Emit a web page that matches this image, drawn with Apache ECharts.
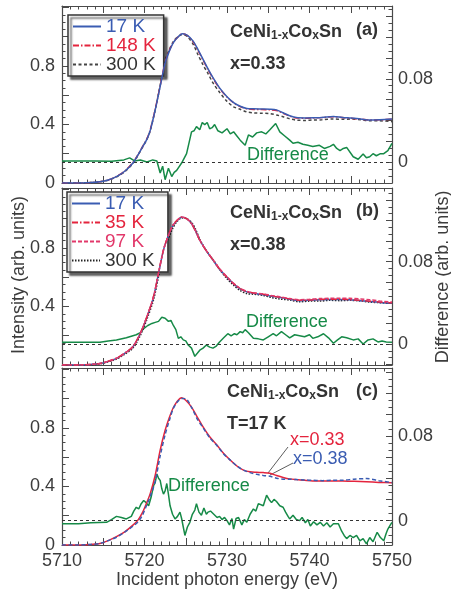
<!DOCTYPE html>
<html>
<head>
<meta charset="utf-8">
<script src="https://cdn.jsdelivr.net/npm/echarts@6/dist/echarts.min.js"></script>
<style>
  html, body { margin: 0; padding: 0; background: #fff; }
  #main { width: 451px; height: 593px; }
</style>
</head>
<body>
<div id="main"></div>
<script>
// ---- panel (a): x = 0.33, spectra at 17 K / 148 K / 300 K
var eA = [5710, 5712, 5713.5, 5714.6, 5715.6, 5716.6, 5717.6, 5718.6, 5719.2, 5719.8,
          5720.3, 5720.7, 5721.3, 5721.9, 5722.5, 5723.0, 5723.5, 5724.0, 5724.6, 5725.2,
          5725.9, 5726.5, 5727.1, 5727.7, 5728.3, 5729.1, 5730.0, 5730.8, 5731.6, 5732.4,
          5733.2, 5734.2, 5735.2, 5736.0, 5736.8, 5737.6, 5738.4, 5739.5, 5740.5, 5741.5,
          5742.9, 5744.0, 5745.0, 5746.2, 5747.3, 5748.5, 5750];
var a17 = [0, 0, 0.003, 0.008, 0.02, 0.043, 0.08, 0.137, 0.19, 0.25,
           0.30, 0.36, 0.50, 0.66, 0.82, 0.90, 0.96, 0.995, 1.02, 1.01,
           0.97, 0.91, 0.845, 0.78, 0.72, 0.65, 0.59, 0.55, 0.525, 0.51,
           0.507, 0.506, 0.505, 0.50, 0.48, 0.46, 0.447, 0.445, 0.446, 0.448,
           0.455, 0.448, 0.444, 0.438, 0.43, 0.432, 0.437];
var a148 = [0, 0, 0.003, 0.009, 0.021, 0.045, 0.082, 0.14, 0.193, 0.252,
            0.303, 0.365, 0.505, 0.665, 0.825, 0.905, 0.962, 0.995, 1.02, 1.008,
            0.965, 0.905, 0.84, 0.775, 0.716, 0.647, 0.588, 0.548, 0.522, 0.508,
            0.503, 0.502, 0.5, 0.495, 0.477, 0.457, 0.445, 0.443, 0.445, 0.447,
            0.453, 0.447, 0.442, 0.437, 0.43, 0.432, 0.436];
var a300 = [0, 0, 0.003, 0.008, 0.019, 0.041, 0.077, 0.134, 0.188, 0.249,
            0.30, 0.36, 0.50, 0.668, 0.837, 0.91, 0.968, 0.998, 1.015, 1.0,
            0.948, 0.875, 0.807, 0.748, 0.684, 0.62, 0.558, 0.521, 0.504, 0.486,
            0.479, 0.477, 0.474, 0.465, 0.453, 0.439, 0.43, 0.428, 0.431, 0.432,
            0.438, 0.435, 0.437, 0.433, 0.425, 0.425, 0.419];
var diffA = [[5710, 0.001], [5712, 0.001], [5714, 0.001], [5716, 0.0008], [5717.5, 0.002],
             [5718.2, 0.004], [5718.8, 0.001], [5719.5, 0.002], [5720.3, 0], [5721.0, 0.002],
             [5721.5, 0.001], [5721.9, -0.0106], [5722.2, -0.004], [5722.5, -0.017], [5722.9, -0.006],
             [5723.3, -0.014], [5723.6, -0.01], [5723.9, -0.008], [5724.5, -0.001], [5725.1, 0.008],
             [5725.7, 0.029], [5726.0, 0.03], [5726.3, 0.034], [5726.7, 0.031], [5727.0, 0.038],
             [5727.3, 0.036], [5727.6, 0.038], [5727.9, 0.032], [5728.2, 0.033], [5728.5, 0.036],
             [5728.9, 0.03], [5729.4, 0.028], [5730.0, 0.032], [5730.4, 0.027], [5730.8, 0.029],
             [5731.2, 0.025], [5731.6, 0.021], [5732.2, 0.016], [5732.6, 0.026], [5733.1, 0.024],
             [5733.6, 0.028], [5734.2, 0.029], [5734.7, 0.027], [5735.2, 0.031], [5735.9, 0.037],
             [5736.4, 0.029], [5737.0, 0.025], [5737.6, 0.021], [5738.0, 0.018], [5738.6, 0.019],
             [5739.2, 0.017], [5739.8, 0.016], [5740.4, 0.015], [5741.2, 0.016], [5741.8, 0.013],
             [5742.5, 0.015], [5742.9, 0.017], [5743.3, 0.013], [5743.7, 0.011], [5744.1, 0.013],
             [5744.5, 0.014], [5745.3, 0.005], [5745.9, 0.0026], [5746.5, 0.0077], [5746.9, 0.004],
             [5747.3, 0.005], [5747.7, 0.008], [5748.1, 0.006], [5748.6, 0.008], [5749.0, 0.008],
             [5749.5, 0.011], [5750, 0.018]];

// ---- panel (b): x = 0.38, spectra at 17 K / 35 K / 97 K / 300 K
var eB = [5710, 5712, 5713.5, 5714.6, 5715.6, 5716.6, 5717.6, 5718.6, 5719.5, 5720.3,
          5721.1, 5721.7, 5722.3, 5722.8, 5723.4, 5724.0, 5724.5, 5725.1, 5725.7, 5726.2,
          5726.7, 5727.5, 5728.3, 5729.1, 5730.0, 5730.8, 5731.6, 5732.4, 5733.2, 5734.4,
          5735.4, 5736.4, 5737.6, 5738.8, 5740.0, 5741.2, 5742.5, 5743.7, 5744.9, 5746.1,
          5747.3, 5748.5, 5750];
var b17 = [0, 0, 0.004, 0.01, 0.025, 0.045, 0.08, 0.125, 0.216, 0.33,
           0.466, 0.626, 0.785, 0.87, 0.95, 0.99, 1.01, 1.0, 0.967, 0.915,
           0.853, 0.78, 0.717, 0.655, 0.6, 0.555, 0.52, 0.5, 0.49, 0.48,
           0.47, 0.462, 0.45, 0.44, 0.442, 0.446, 0.447, 0.447, 0.446, 0.44,
           0.434, 0.428, 0.423];
var b35 = [0, 0, 0.004, 0.01, 0.026, 0.046, 0.081, 0.127, 0.218, 0.332,
           0.47, 0.63, 0.787, 0.872, 0.952, 0.992, 1.012, 1.0, 0.965, 0.913,
           0.852, 0.779, 0.718, 0.656, 0.6, 0.556, 0.522, 0.502, 0.492, 0.483,
           0.472, 0.463, 0.452, 0.442, 0.444, 0.448, 0.449, 0.449, 0.447, 0.442,
           0.436, 0.43, 0.425];
var b97 = [0, 0, 0.004, 0.01, 0.025, 0.046, 0.08, 0.126, 0.217, 0.331,
           0.468, 0.628, 0.786, 0.871, 0.951, 0.991, 1.012, 1.002, 0.968, 0.916,
           0.855, 0.782, 0.72, 0.658, 0.603, 0.558, 0.524, 0.504, 0.494, 0.486,
           0.475, 0.466, 0.454, 0.446, 0.449, 0.454, 0.456, 0.457, 0.456, 0.452,
           0.446, 0.438, 0.43];
var b300 = [0, 0, 0.002, 0.008, 0.022, 0.041, 0.074, 0.116, 0.203, 0.314,
            0.446, 0.604, 0.76, 0.848, 0.932, 0.985, 1.006, 1.001, 0.975, 0.927,
            0.859, 0.781, 0.721, 0.653, 0.59, 0.545, 0.508, 0.488, 0.484, 0.476,
            0.461, 0.451, 0.444, 0.432, 0.437, 0.437, 0.442, 0.44, 0.442, 0.438,
            0.43, 0.426, 0.421];
var diffB = [[5710, 0.0016], [5712, 0.0016], [5714.6, 0.0016], [5715.6, 0.003], [5716.6, 0.004],
             [5717.8, 0.006], [5719.0, 0.009], [5719.5, 0.011], [5719.9, 0.015], [5720.4, 0.018],
             [5720.9, 0.02], [5721.3, 0.021], [5721.7, 0.022], [5722.1, 0.026], [5722.5, 0.025],
             [5722.7, 0.026], [5722.9, 0.022], [5723.2, 0.023], [5723.5, 0.018], [5723.8, 0.014],
             [5724.1, 0.0055], [5724.4, 0.007], [5724.7, 0.004], [5725.0, 0.003], [5725.3, -0.001],
             [5725.7, -0.004], [5726.1, -0.012], [5726.4, -0.009], [5726.7, -0.006], [5727.1, -0.004],
             [5727.5, -0.001], [5727.9, -0.003], [5728.3, -0.004], [5728.7, -0.002], [5729.1, 0.002],
             [5729.6, 0.006], [5730.1, 0.01], [5730.5, 0.008], [5730.9, 0.01], [5731.2, 0.009],
             [5731.6, 0.012], [5731.9, 0.011], [5732.2, 0.014], [5732.6, 0.011], [5733.2, 0.0055],
             [5733.8, 0.005], [5734.4, 0.004], [5735.0, 0.007], [5735.6, 0.01], [5736.0, 0.008],
             [5736.6, 0.012], [5737.1, 0.009], [5737.6, 0.006], [5738.2, 0.009], [5738.8, 0.008],
             [5739.4, 0.007], [5740.0, 0.009], [5740.4, 0.0055], [5741.0, 0.007], [5741.7, 0.01],
             [5742.3, 0.006], [5742.9, 0.0007], [5743.4, 0.004], [5743.9, 0.007], [5744.5, 0.006],
             [5745.3, 0.004], [5745.9, 0.005], [5746.5, 0], [5747.1, 0.004], [5747.7, 0.005],
             [5748.3, 0.002], [5748.8, 0.003], [5749.3, 0.002], [5750, 0.0016]];

// ---- panel (c): T = 17 K, x = 0.33 vs x = 0.38
var eC = [5710, 5712, 5713.5, 5714.6, 5715.6, 5716.6, 5717.6, 5718.6, 5719.2, 5719.7,
          5720.2, 5720.7, 5721.3, 5721.9, 5722.5, 5723.0, 5723.5, 5724.0, 5724.5, 5725.0,
          5725.7, 5726.4, 5727.1, 5727.9, 5728.8, 5729.6, 5730.4, 5731.2, 5732.0, 5732.8,
          5733.6, 5734.4, 5735.2, 5736.0, 5736.8, 5737.6, 5738.4, 5739.4, 5740.4, 5741.6,
          5742.8, 5744.0, 5745.4, 5746.9, 5748.4, 5750];
var c33 = [0, 0, 0.004, 0.01, 0.03, 0.057, 0.09, 0.136, 0.17, 0.216,
           0.28, 0.353, 0.477, 0.648, 0.784, 0.87, 0.94, 0.985, 1.007, 0.99,
           0.943, 0.875, 0.807, 0.74, 0.682, 0.625, 0.58, 0.54, 0.512, 0.5,
           0.497, 0.495, 0.49, 0.475, 0.462, 0.452, 0.447, 0.442, 0.438, 0.438,
           0.438, 0.437, 0.435, 0.432, 0.428, 0.425];
var c38 = [0, 0, 0.004, 0.011, 0.03, 0.053, 0.088, 0.128, 0.157, 0.198,
           0.264, 0.333, 0.437, 0.61, 0.754, 0.85, 0.935, 0.979, 1.002, 1.0,
           0.941, 0.861, 0.801, 0.733, 0.679, 0.622, 0.58, 0.54, 0.512, 0.495,
           0.483, 0.475, 0.47, 0.457, 0.45, 0.45, 0.447, 0.444, 0.443, 0.44,
           0.443, 0.443, 0.45, 0.454, 0.44, 0.427];
var diffC = [[5710, -0.003], [5712, -0.003], [5713.5, -0.002], [5715.4, -0.0016], [5716.0, 0.001],
             [5716.6, 0.004], [5717.2, 0.003], [5717.8, 0.0016], [5718.4, 0.004], [5718.7, 0.009],
             [5719.0, 0.0126], [5719.3, 0.011], [5719.6, 0.016], [5719.9, 0.019], [5720.2, 0.017],
             [5720.5, 0.014], [5720.8, 0.022], [5721.1, 0.033], [5721.3, 0.036], [5721.5, 0.044],
             [5721.7, 0.04], [5721.9, 0.038], [5722.1, 0.03], [5722.3, 0.025], [5722.5, 0.028],
             [5722.7, 0.035], [5722.9, 0.025], [5723.1, 0.014], [5723.4, 0.006], [5723.7, 0.0016],
             [5724.0, 0.004], [5724.3, 0.008], [5724.5, 0.002], [5724.7, -0.006], [5724.9, -0.014],
             [5725.2, -0.006], [5725.5, -0.0016], [5725.8, 0.006], [5726.1, 0.01], [5726.3, 0.016],
             [5726.6, 0.008], [5726.9, 0.005], [5727.2, 0.012], [5727.5, 0.006], [5727.7, 0.008],
             [5728.0, 0.009], [5728.4, 0.006], [5728.8, 0.003], [5729.1, 0.004], [5729.4, 0.001],
             [5729.7, 0.003], [5730.0, 0], [5730.3, -0.004], [5730.6, 0.002], [5730.8, -0.008],
             [5731.1, 0.002], [5731.4, 0.003], [5731.8, -0.004], [5732.1, 0.001], [5732.4, -0.0016],
             [5732.8, 0.006], [5733.2, 0.011], [5733.5, 0.009], [5733.8, 0.016], [5734.0, 0.017],
             [5734.4, 0.014], [5734.8, 0.024], [5735.1, 0.02], [5735.4, 0.017], [5735.7, 0.02],
             [5736.0, 0.018], [5736.4, 0.014], [5736.8, 0.0126], [5737.1, 0.008], [5737.4, 0.004],
             [5737.6, 0.0016], [5738.0, 0.005], [5738.4, 0.001], [5738.8, 0], [5739.1, 0.003],
             [5739.5, -0.002], [5739.8, 0.001], [5740.1, -0.005], [5740.5, -0.001], [5740.9, -0.004],
             [5741.3, -0.0016], [5741.7, -0.005], [5742.1, -0.002], [5742.5, -0.006], [5742.9, -0.003],
             [5743.5, -0.003], [5743.9, -0.01], [5744.2, -0.014], [5744.5, -0.017], [5744.9, -0.014],
             [5745.3, -0.016], [5745.7, -0.014], [5746.1, -0.019], [5746.5, -0.017], [5746.9, -0.022],
             [5747.3, -0.016], [5747.7, -0.02], [5748.2, -0.011], [5748.6, -0.016], [5749.0, -0.019],
             [5749.3, -0.012], [5749.5, -0.008], [5749.8, -0.004], [5750, -0.0016]];

// axis ranges
var intensityMax = 1.21;
var diffRanges = [[-0.0202, 0.150], [-0.0204, 0.1516], [-0.023, 0.144]];

var FONT = '"Liberation Sans", Arial, Helvetica, sans-serif';
var BLUE = '#3a5cb2', RED = '#e4243d', PINK = '#e2386a', GREEN = '#168a47';
var AXIS = '#4a4a4a', TEXT = '#3c3c3c';

function zip(xs, ys) {
    return xs.map(function (x, i) { return [x, ys[i]]; });
}
function near(v, t) { return Math.abs(v - t) < 1e-9; }

var gridTops = [6, 188, 368];
var grids = gridTops.map(function (t) {
    return { left: 62, top: t, width: 330, height: 177, containLabel: false, outerBoundsMode: 'none' };
});

var xAxes = [], yAxes = [];
gridTops.forEach(function (t, g) {
    var last = g === 2;
    ['bottom', 'top'].forEach(function (pos) {
        xAxes.push({
            type: 'value', gridIndex: g, position: pos, min: 5710, max: 5750, interval: 5,
            axisLine: { show: true, onZero: false, lineStyle: { color: AXIS, width: 1.2 } },
            axisTick: { show: true, inside: true, length: 7, lineStyle: { color: AXIS } },
            minorTick: { show: true, splitNumber: 5, length: 3.5, lineStyle: { color: AXIS } },
            splitLine: { show: false },
            axisLabel: {
                show: last && pos === 'bottom', margin: 7, fontSize: 18, color: TEXT, fontFamily: FONT,
                formatter: function (v) { return v % 10 === 0 ? String(v) : ''; }
            }
        });
    });
    yAxes.push({
        type: 'value', gridIndex: g, position: 'left', min: 0, max: intensityMax, interval: 0.2,
        axisLine: { show: true, lineStyle: { color: AXIS, width: 1.2 } },
        axisTick: { show: true, inside: true, length: 7, lineStyle: { color: AXIS } },
        minorTick: { show: true, splitNumber: 4, length: 3.5, lineStyle: { color: AXIS } },
        splitLine: { show: false },
        axisLabel: {
            margin: 7, fontSize: 18, color: TEXT, fontFamily: FONT,
            formatter: function (v) {
                if (near(v, 0)) return '0';
                if (near(v, 0.4)) return '0.4';
                if (near(v, 0.8)) return '0.8';
                return '';
            }
        }
    });
    yAxes.push({
        type: 'value', gridIndex: g, position: 'right',
        min: diffRanges[g][0], max: diffRanges[g][1],
        minInterval: 0.02, maxInterval: 0.02, splitNumber: 8,
        axisLine: { show: true, lineStyle: { color: AXIS, width: 1.2 } },
        axisTick: { show: true, inside: true, length: 6, lineStyle: { color: AXIS } },
        minorTick: { show: true, splitNumber: 3, length: 3.5, lineStyle: { color: AXIS } },
        splitLine: { show: false },
        axisLabel: {
            margin: 6, fontSize: 18, color: TEXT, fontFamily: FONT,
            formatter: function (v) {
                if (near(v, 0)) return '0';
                if (near(v, 0.08)) return '0.08';
                return '';
            }
        }
    });
});

function spectrum(name, g, data, color, dash, z) {
    return {
        name: name, type: 'line', xAxisIndex: g * 2, yAxisIndex: g * 2,
        data: data, symbol: 'none', showSymbol: false, smooth: 0.3, z: z || 3,
        lineStyle: { color: color, width: 1.5, type: dash || 'solid' },
        itemStyle: { color: color }, animation: false
    };
}
function difference(g, data) {
    return {
        name: 'diff' + g, type: 'line', xAxisIndex: g * 2, yAxisIndex: g * 2 + 1,
        data: data, symbol: 'none', showSymbol: false, z: 2,
        lineStyle: { color: GREEN, width: 1.5 }, animation: false,
        markLine: {
            silent: true, symbol: 'none', label: { show: false },
            lineStyle: { color: '#333', width: 1, type: [3, 3] },
            data: [{ yAxis: 0 }]
        }
    };
}

var series = [
    difference(0, diffA),
    spectrum('300 K', 0, zip(eA, a300), '#444', [3, 2.5], 3),
    spectrum('148 K', 0, zip(eA, a148), RED, [6, 2, 1.5, 2], 4),
    spectrum('17 K', 0, zip(eA, a17), BLUE, 'solid', 5),

    difference(1, diffB),
    spectrum('300 K ', 1, zip(eB, b300), '#222', [1.5, 1.5], 3),
    spectrum('17 K ', 1, zip(eB, b17), BLUE, 'solid', 4),
    spectrum('35 K', 1, zip(eB, b35), RED, [6, 2, 1.5, 2], 5),
    spectrum('97 K', 1, zip(eB, b97), PINK, [4, 2], 6),

    difference(2, diffC),
    spectrum('x=0.33', 2, zip(eC, c33), RED, 'solid', 4),
    spectrum('x=0.38', 2, zip(eC, c38), BLUE, [4, 2.5], 5)
];

function legendBox(left, top, items) {
    return {
        orient: 'vertical', left: left, top: top, selectedMode: false,
        itemWidth: 28, itemHeight: 12, itemGap: 0,
        padding: [2, 8, 2, 4],
        backgroundColor: '#fff', borderColor: '#333', borderWidth: 1.5, borderRadius: 0,
        shadowColor: 'rgba(0,0,0,0.6)', shadowBlur: 2, shadowOffsetX: 3, shadowOffsetY: 3,
        itemStyle: { opacity: 0 },
        textStyle: { fontSize: 19, lineHeight: 18, fontFamily: FONT },
        data: items.map(function (it) {
            return { name: it[0], textStyle: { color: it[1] } };
        })
    };
}

var subRich = {
    b: { fontSize: 18, fontWeight: 'bold', fill: '#333', fontFamily: FONT, lineHeight: 20 },
    s: { fontSize: 12, fontWeight: 'bold', fill: '#333', fontFamily: FONT, lineHeight: 8, verticalAlign: 'bottom' }
};
function label(x, y, text, color, size, bold, rot, align) {
    return {
        type: 'text', x: x, y: y, rotation: rot || 0, silent: true,
        style: {
            text: text, fill: color, fontSize: size || 18, fontFamily: FONT,
            fontWeight: bold ? 'bold' : 'normal', align: align || 'left', verticalAlign: 'middle'
        }
    };
}
function formula(x, y) {
    return {
        type: 'text', x: x, y: y, silent: true,
        style: {
            text: '{b|CeNi}{s|1-x}{b|Co}{s|x}{b|Sn}', rich: subRich,
            align: 'left', verticalAlign: 'middle'
        }
    };
}
function leader(x1, y1, x2, y2) {
    return {
        type: 'line', silent: true,
        shape: { x1: x1, y1: y1, x2: x2, y2: y2 },
        style: { stroke: '#333', lineWidth: 0.8 }
    };
}

var chart = echarts.init(document.getElementById('main'), null, { renderer: 'canvas' });
chart.setOption({
    animation: false,
    backgroundColor: '#fff',
    grid: grids,
    xAxis: xAxes,
    yAxis: yAxes,
    legend: [
        legendBox(68, 15, [['17 K', BLUE], ['148 K', RED], ['300 K', '#333']]),
        legendBox(67, 192, [['17 K ', BLUE], ['35 K', RED], ['97 K', PINK], ['300 K ', '#333']])
    ],
    series: series,
    graphic: [
        // axis titles
        label(19, 275, 'Intensity (arb. units)', TEXT, 18, false, Math.PI / 2, 'center'),
        label(443, 277, 'Difference (arb. units)', TEXT, 18, false, Math.PI / 2, 'center'),
        label(227, 580, 'Incident photon energy (eV)', TEXT, 18, false, 0, 'center'),

        formula(230, 32), label(356, 30, '(a)', '#333', 18, true), label(230, 64, 'x=0.33', '#333', 18, true),
        label(247, 155, 'Difference', GREEN, 18),

        formula(230, 213), label(356, 211, '(b)', '#333', 18, true), label(230, 245, 'x=0.38', '#333', 18, true),
        label(246, 322, 'Difference', GREEN, 18),

        formula(227, 392), label(356, 391, '(c)', '#333', 18, true), label(227, 424, 'T=17 K', '#333', 18, true),
        label(290, 440, 'x=0.33', RED, 18), label(293, 459, 'x=0.38', BLUE, 18),
        leader(288, 447, 268, 473), leader(293, 463, 270, 475),
        label(168, 486, 'Difference', GREEN, 18)
    ]
});
</script>
</body>
</html>
